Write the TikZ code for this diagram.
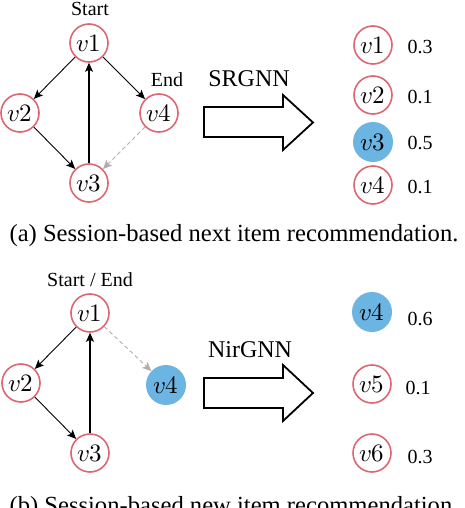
\documentclass[tikz,border=0pt]{standalone}
\usepackage{fontspec,unicode-math}
\setmainfont{Liberation Serif}
\setmathfont{Latin Modern Math}
\usetikzlibrary{positioning, arrows.meta}
\definecolor{ringred}{RGB}{221,102,115}
\definecolor{hitblue}{RGB}{108,180,226}
\definecolor{dashgray}{RGB}{175,175,175}

\begin{document}
\begin{tikzpicture}[
                    x=1pt, y=-1pt,
                    font=\fontsize{20}{24}\selectfont,
                    >={Stealth[length=9pt, width=8pt, inset=2pt]},
                    item/.style={circle, draw=ringred, line width=1.6pt, minimum size=38pt, inner sep=0pt, font=\fontsize{25}{28}\selectfont},
                    hit/.style={circle, fill=hitblue, minimum size=40pt, inner sep=0pt, font=\fontsize{25}{28}\selectfont},
                    link/.style={->, line width=0.9pt},
                    newlink/.style={->, line width=0.9pt, dashgray, dash pattern=on 4pt off 3pt},
                    bigarrow/.style={draw, line width=1.8pt, fill=white},
                    subcap/.style={font=\fontsize{24.6}{28}\selectfont}
                ]
                    \useasboundingbox (0,0) rectangle (464,508);
                    % (a) next item
                    \node[item] (a1) at (89,43) {$v1$};
                    \node[item] (a2) at (20,113) {$v2$};
                    \node[item] (a3) at (89,183) {$v3$};
                    \node[item] (a4) at (159,113) {$v4$};
                    \node (astart) at (90,9) {Start};
                    \node (aend) at (167,80) {End};
                    \draw[link] (a1) -- (a2);
                    \draw[link] (a1) -- (a4);
                    \draw[link] (a2) -- (a3);
                    \draw[link, line width=1.2pt] (a3) -- (a1);
                    \draw[newlink] (a4) -- (a3);

                    \draw[bigarrow] (204,107) -- (283,107) -- (283,95) -- (313,122.5) -- (283,150) -- (283,137) -- (204,137) -- cycle;
                    \node[font=\fontsize{24}{28}\selectfont] (srgnn) at (249,79) {SRGNN};

                    \node[item] (ra1) at (373,45) {$v1$};
                    \node[item] (ra2) at (373,95) {$v2$};
                    \node[hit] (ra3) at (373,142) {$v3$};
                    \node[item] (ra4) at (373,185) {$v4$};
                    \node (sa1) at (420,47) {0.3};
                    \node (sa2) at (420,97) {0.1};
                    \node (sa3) at (420,143) {0.5};
                    \node (sa4) at (420,187) {0.1};

                    \node[subcap] (capa) at (234,236) {(a) Session-based next item recommendation.};

                    % (b) new item
                    \node[item] (b1) at (90,313) {$v1$};
                    \node[item] (b2) at (21,383) {$v2$};
                    \node[item] (b3) at (90,453) {$v3$};
                    \node[hit] (b4) at (166,385) {$v4$};
                    \node (bstart) at (90,280) {Start / End};
                    \draw[link] (b1) -- (b2);
                    \draw[link] (b2) -- (b3);
                    \draw[link, line width=1.2pt] (b3) -- (b1);
                    \draw[newlink] (b1) -- (b4);

                    \draw[bigarrow] (204,378) -- (283,378) -- (283,365) -- (313,393) -- (283,421) -- (283,408) -- (204,408) -- cycle;
                    \node[font=\fontsize{24}{28}\selectfont] (nirgnn) at (250,350) {NirGNN};

                    \node[hit] (rb4) at (372,312) {$v4$};
                    \node[item] (rb5) at (372,384) {$v5$};
                    \node[item] (rb6) at (372,453) {$v6$};
                    \node (sb4) at (420,319) {0.6};
                    \node (sb5) at (418,388) {0.1};
                    \node (sb6) at (420,457) {0.3};

                    \node[subcap] (capb) at (234,508) {(b) Session-based new item recommendation.};
                \end{tikzpicture}
\end{document}
